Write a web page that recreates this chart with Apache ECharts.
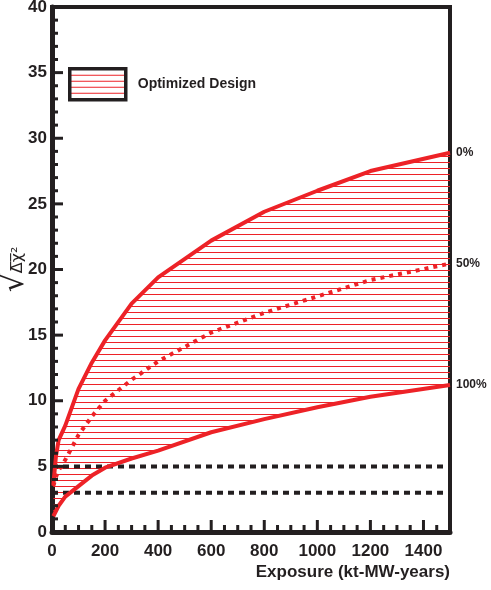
<!DOCTYPE html>
<html>
<head>
<meta charset="utf-8">
<script src="https://cdn.jsdelivr.net/npm/echarts@6/dist/echarts.min.js"></script>
<style>
  html, body { margin: 0; padding: 0; background: #fff; }
  #main { width: 491px; height: 590px; }
</style>
</head>
<body>
<div id="main"></div>
<script>
// exposure in kt-MW-years
const exposure = [5, 15, 25, 50, 100, 150, 200, 300, 400, 600, 800, 1000, 1200, 1500];
// sqrt(delta chi^2) for 0%, 50% and 100% systematics
const sens0 = [3.6, 5.8, 7.0, 8.1, 10.9, 12.9, 14.6, 17.4, 19.4, 22.2, 24.4, 26.0, 27.5, 28.9];
const sens50 = [3.5, 4.2, 4.7, 5.5, 7.4, 8.8, 10.0, 11.6, 13.0, 15.2, 16.7, 17.95, 19.2, 20.45];
const sens100 = [1.2, 1.6, 2.0, 2.7, 3.5, 4.3, 4.9, 5.6, 6.2, 7.6, 8.6, 9.5, 10.3, 11.2];
const curveLabels = ["0%", "50%", "100%"];
const thresholds = [3, 5];
const xRange = [0, 1500];
const yRange = [0, 40];
const legendName = "Optimized Design";

// tick positions (axis values)
const xMajorTicks = [0, 200, 400, 600, 800, 1000, 1200, 1400];
const xMinorTicks = [50, 100, 150, 250, 300, 350, 450, 500, 550, 650, 700, 750,
  850, 900, 950, 1050, 1100, 1150, 1250, 1300, 1350, 1450];
const yMajorTicks = [0, 5, 10, 15, 20, 25, 30, 35, 40];
const yMinorTicks = [1, 2, 3, 4, 6, 7, 8, 9, 11, 12, 13, 14, 16, 17, 18, 19,
  21, 22, 23, 24, 26, 27, 28, 29, 31, 32, 33, 34, 36, 37, 38, 39];

const RED = "#ed2227";
const BLACK = "#231f20";
const FONT = "Liberation Sans";

// horizontal hatch used for the band
const hatch = document.createElement("canvas");
hatch.width = 6;
hatch.height = 6;
const hctx = hatch.getContext("2d");
hctx.fillStyle = RED;
hctx.fillRect(0, 0, 6, 1);
const hatchFill = { image: hatch, repeat: "repeat" };

const pairs = (ys) => exposure.map((x, i) => [x, ys[i]]);

const myChart = echarts.init(document.getElementById("main"), null, { renderer: "canvas" });

const curve = (name, ys, type) => ({
  name,
  type: "line",
  data: pairs(ys),
  showSymbol: false,
  z: 5,
  lineStyle: { color: RED, width: 4, type },
  endLabel: {
    show: true,
    formatter: name,
    color: BLACK,
    fontFamily: FONT,
    fontWeight: "bold",
    fontSize: 12,
    distance: 6,
  },
});

const tickLine = (p, dx, dy) => ({
  type: "line",
  shape: { x1: p[0], y1: p[1], x2: p[0] + dx, y2: p[1] + dy },
  style: { stroke: BLACK, lineWidth: 3 },
});

const option = {
  backgroundColor: "#fff",
  animation: false,
  grid: {
    left: 52,
    right: 41,
    top: 7,
    bottom: 58,
    outerBoundsMode: "none",
    show: true,
    backgroundColor: "transparent",
    borderColor: BLACK,
    borderWidth: 4,
  },
  legend: {
    left: 63,
    top: 62,
    itemWidth: 56,
    itemHeight: 31,
    selectedMode: false,
    data: [
      {
        name: legendName,
        icon: "rect",
        itemStyle: { color: hatchFill, borderColor: BLACK, borderWidth: 3.5 },
      },
    ],
    textStyle: {
      color: BLACK,
      fontFamily: FONT,
      fontWeight: "bold",
      fontSize: 14,
      padding: [0, 0, 0, 7],
    },
  },
  xAxis: {
    type: "value",
    min: xRange[0],
    max: xRange[1],
    interval: 200,
    position: "bottom",
    name: "Exposure (kt-MW-years)",
    nameLocation: "end",
    nameGap: 0,
    nameTextStyle: {
      color: BLACK,
      fontFamily: FONT,
      fontWeight: "bold",
      fontSize: 17,
      align: "right",
      verticalAlign: "top",
      padding: [32, 0, 0, 0],
    },
    axisLine: { show: true, onZero: false, lineStyle: { color: BLACK, width: 5 } },
    axisTick: { show: false },
    axisLabel: {
      showMaxLabel: false,
      margin: 11,
      color: BLACK,
      fontFamily: FONT,
      fontWeight: "bold",
      fontSize: 17,
      formatter: (v) => String(v),
    },
    splitLine: { show: false },
  },
  yAxis: {
    type: "value",
    min: yRange[0],
    max: yRange[1],
    interval: 5,
    position: "left",
    name: "{r|√}{s|Δ̅χ̅²}",
    nameLocation: "middle",
    nameGap: 22,
    nameMoveOverlap: false,
    nameRotate: 90,
    nameTextStyle: {
      color: BLACK,
      fontFamily: "DejaVu Sans",
      rich: {
        r: { fontSize: 30, color: BLACK, fontFamily: "DejaVu Sans" },
        s: { fontSize: 16, color: BLACK, fontFamily: "DejaVu Sans", padding: [6, 0, 0, 0] },
      },
    },
    axisLine: { show: true, onZero: false, lineStyle: { color: BLACK, width: 5 } },
    axisTick: { show: false },
    axisLabel: {
      margin: 5,
      color: BLACK,
      fontFamily: FONT,
      fontWeight: "bold",
      fontSize: 17,
    },
    splitLine: { show: false },
  },
  series: [
    {
      // hatched band between the 0% and 100% curves
      name: legendName,
      type: "custom",
      z: 2,
      data: exposure.map((x, i) => [x, sens100[i], sens0[i]]),
      encode: { x: 0, y: [1, 2] },
      renderItem: (params, api) => {
        if (params.dataIndex !== 0) return null;
        const top = exposure.map((x, i) => api.coord([x, sens0[i]]));
        const bottom = exposure.map((x, i) => api.coord([x, sens100[i]])).reverse();
        return {
          type: "polygon",
          shape: { points: top.concat(bottom) },
          style: { fill: hatchFill, stroke: null },
        };
      },
    },
    ...thresholds.map((t) => ({
      name: "level " + t,
      type: "line",
      data: [[xRange[0], t], [xRange[1], t]],
      showSymbol: false,
      z: 3,
      lineStyle: { color: BLACK, width: 4, type: [6, 5] },
    })),
    curve(curveLabels[0], sens0, "solid"),
    curve(curveLabels[1], sens50, [4, 5]),
    curve(curveLabels[2], sens100, "solid"),
    {
      // inner tick marks along the bottom and left axes
      name: "ticks",
      type: "custom",
      z: 6,
      silent: true,
      data: [[xRange[0], yRange[0]]],
      encode: { x: 0, y: 1 },
      renderItem: (params, api) => {
        const children = [];
        xMajorTicks.forEach((v) => children.push(tickLine(api.coord([v, yRange[0]]), 0, -12)));
        xMinorTicks.forEach((v) => children.push(tickLine(api.coord([v, yRange[0]]), 0, -7)));
        yMajorTicks.forEach((v) => children.push(tickLine(api.coord([xRange[0], v]), 11, 0)));
        yMinorTicks.forEach((v) => children.push(tickLine(api.coord([xRange[0], v]), 6, 0)));
        return { type: "group", children };
      },
    },
  ],
};

myChart.setOption(option);

window.addEventListener("resize", () => {
  myChart.resize();
});
</script>
</body>
</html>
